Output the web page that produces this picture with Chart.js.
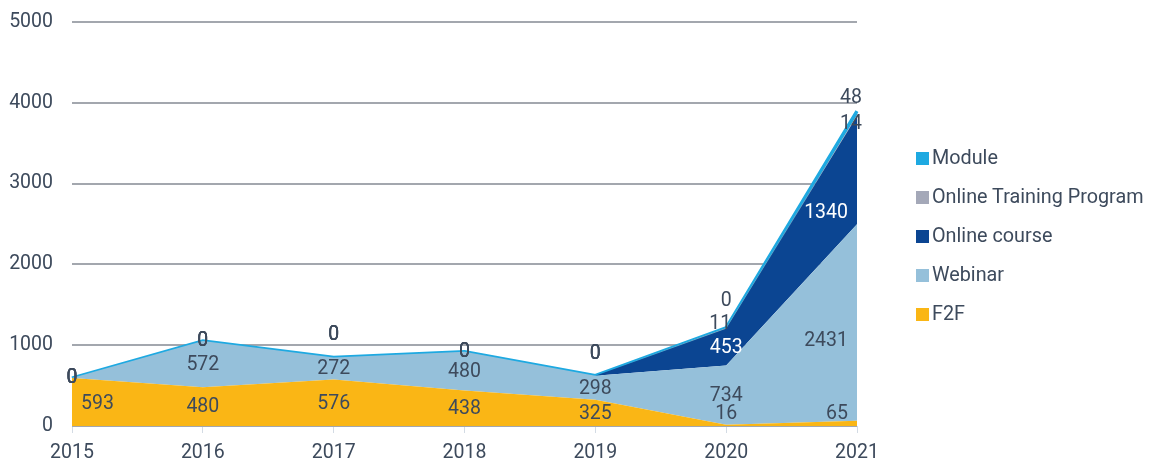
<!DOCTYPE html>
<html>
<head>
<meta charset="utf-8">
<script src="https://cdn.jsdelivr.net/npm/chart.js@4/dist/chart.umd.min.js"></script>
<style>
  html, body { margin: 0; padding: 0; background: #fff; }
  #wrap { position: relative; width: 1153px; height: 462px; }
  #wrap canvas { display: block; }
  #legend { position: absolute; left: 916px; top: 145px; font-family: Roboto, sans-serif; font-size: 19.8px; color: #3d4a5c; }
  #legend div { height: 39px; line-height: 26px; white-space: nowrap; }
  #legend span { display: inline-block; width: 13px; height: 13px; margin-right: 3px; vertical-align: -1px; }
</style>
</head>
<body>
<div id="wrap">
  <canvas id="chart" width="1153" height="462"></canvas>
  <div id="legend"></div>
</div>
<script>
const years = ["2015", "2016", "2017", "2018", "2019", "2020", "2021"];
const f2f = [593, 480, 576, 438, 325, 16, 65];
const webinar = [0, 572, 272, 480, 298, 734, 2431];
const onlineCourse = [0, 0, 0, 0, 0, 453, 1340];
const trainingProgram = [0, 0, 0, 0, 0, 11, 14];
const module = [0, 0, 0, 0, 0, 0, 48];
const yTicks = [0, 1000, 2000, 3000, 4000, 5000];

const textColor = "#3d4a5c";
const thin = ["Online Training Program", "Module"];

// draws the value of every band, centred in the band at the label's x
const bandLabels = {
  id: "bandLabels",
  afterDatasetsDraw(chart) {
    const ctx = chart.ctx;
    const area = chart.chartArea;
    const axisY = chart.scales.y.getPixelForValue(0);
    const sets = chart.data.datasets;
    const topMeta = chart.getDatasetMeta(sets.length - 1).data;
    ctx.save();
    ctx.font = "19.5px Roboto";
    ctx.textAlign = "center";
    ctx.textBaseline = "middle";
    sets.forEach((ds, di) => {
      const pts = chart.getDatasetMeta(di).data;
      const below = di > 0 ? chart.getDatasetMeta(di - 1).data : null;
      ds.data.forEach((v, i) => {
        const p = pts[i];
        const txt = String(v);
        let x = p.x, y;
        const top = topMeta[i].y;
        const valley = (topMeta[i - 1] ? topMeta[i - 1].y < top : true) &&
                       (topMeta[i + 1] ? topMeta[i + 1].y < top : true);
        const thinVals = sets.filter(s => thin.includes(s.label)).map(s => s.data[i]);
        const nonZeroThin = thinVals.filter(t => t !== 0).length;
        if (v === 0) {
          if (nonZeroThin > 0) y = top - 27;
          else y = valley && i > 0 ? top - 22 : top;
        } else if (thin.includes(ds.label)) {
          if (nonZeroThin > 1) y = ds.label === "Module" ? top - 13 : top + 13;
          else y = top - 4;
          x = p.x - 6;
        } else {
          const w = ctx.measureText(txt).width;
          x = Math.max(area.left + w / 2 + 9, Math.min(area.right - w / 2 - 9, x));
          // band edges at x
          const j = x > p.x ? i + 1 : i - 1;
          const q = pts[j] || p;
          const t = q.x !== p.x ? (x - p.x) / (q.x - p.x) : 0;
          const upper = p.y + (q.y - p.y) * t;
          let lower = axisY;
          if (below) {
            const bp = below[i], bq = below[j] || bp;
            lower = bp.y + (bq.y - bp.y) * t;
          }
          y = Math.min((upper + lower) / 2 + 1, axisY - 12);
        }
        ctx.fillStyle = ds.label === "Online course" && v !== 0 ? "#ffffff" : textColor;
        ctx.fillText(txt, x, y);
      });
    });
    ctx.restore();
  }
};

const series = [
  { label: "F2F", data: f2f, color: "#fab615" },
  { label: "Webinar", data: webinar, color: "#95c0da" },
  { label: "Online course", data: onlineCourse, color: "#0b4592" },
  { label: "Online Training Program", data: trainingProgram, color: "#a4a8b8" },
  { label: "Module", data: module, color: "#1ea9e1" }
];

new Chart(document.getElementById("chart"), {
  type: "line",
  data: {
    labels: years,
    datasets: series.map((s, i) => ({
      label: s.label,
      data: s.data,
      backgroundColor: s.color,
      borderColor: s.label === "Module" ? s.color : "transparent",
      borderWidth: s.label === "Module" ? 3.5 : 0,
      fill: i === 0 ? "origin" : "-1",
      pointRadius: 0,
      tension: 0
    }))
  },
  options: {
    responsive: false,
    animation: false,
    layout: { padding: { top: 22, right: 296, bottom: 0, left: 0 } },
    plugins: {
      legend: { display: false },
      tooltip: { enabled: false }
    },
    scales: {
      x: {
        offset: false,
        grid: { drawOnChartArea: false, drawTicks: true, tickLength: 7, color: "#d3dbe4" },
        border: { display: false },
        ticks: { color: textColor, font: { family: "Roboto", size: 19.5 }, padding: 8, maxRotation: 0 },
        afterFit(scale) { scale.height = 36; }
      },
      y: {
        stacked: true,
        min: 0,
        max: 5000,
        afterBuildTicks(scale) { scale.ticks = yTicks.map(v => ({ value: v })); },
        grid: { color: "#a3a7ae", lineWidth: 2, drawTicks: true, tickLength: 19, tickColor: "rgba(0,0,0,0)" },
        border: { display: false },
        ticks: { color: textColor, font: { family: "Roboto", size: 19.5 }, padding: 0, callback: v => String(v) },
        afterFit(scale) { scale.width = 72; }
      }
    }
  },
  plugins: [bandLabels]
});

// legend, top item first like the reference
const legend = document.getElementById("legend");
series.slice().reverse().forEach(s => {
  const row = document.createElement("div");
  row.innerHTML = '<span style="background:' + s.color + '"></span>' + s.label;
  legend.appendChild(row);
});
</script>
</body>
</html>
